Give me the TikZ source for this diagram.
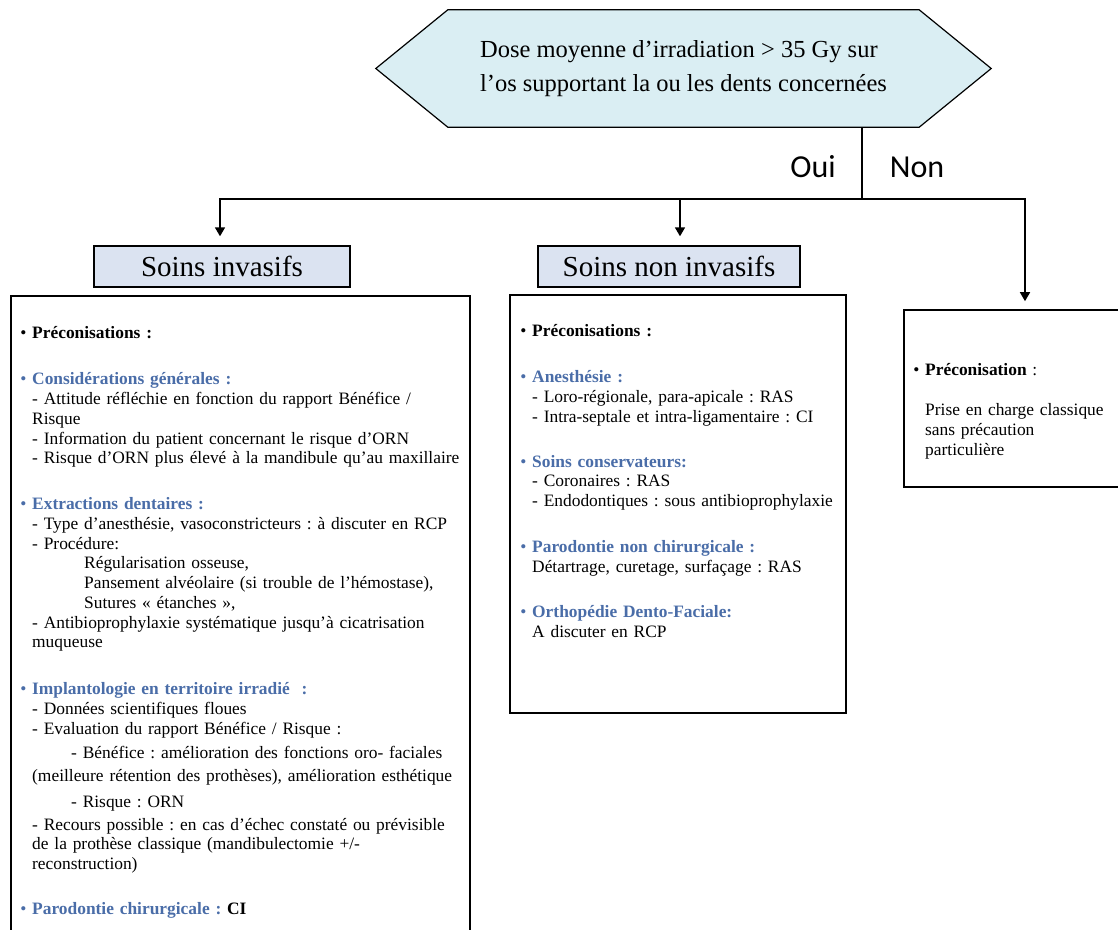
\documentclass[tikz,border=0pt]{standalone}
\usepackage{fontspec}
\setmainfont{Liberation Serif}
\newfontfamily\calibri{Carlito}
\usetikzlibrary{positioning,arrows.meta,backgrounds}
\definecolor{dosefond}{HTML}{DAEEF3}
\definecolor{titrefond}{HTML}{DBE3F1}
\definecolor{titrebleu}{HTML}{4A6DA8}
\newcommand{\puce}[1]{\leavevmode\llap{\textbullet\ }\textbf{#1}}
\newcommand{\bpuce}[1]{\leavevmode{\color{titrebleu}\puce{#1}}}
\frenchspacing

\begin{document}
\begin{tikzpicture}[x=1pt,y=-1pt,
titre/.style={draw,line width=1.4pt,fill=titrefond,minimum width=256pt,minimum height=41pt,font=\fontsize{29}{34}\selectfont},
boite/.style={draw,line width=1.6pt,rectangle},
texte/.style={anchor=base west,inner sep=0pt,align=left,font=\fontsize{17.4}{19.75}\selectfont\frenchspacing},
fleche/.style={line width=1.6pt,-{Triangle[length=9pt,width=10pt]}}]
\useasboundingbox (0,0) rectangle (1118,929);

\node (dose) [font=\fontsize{24.5}{34}\selectfont,align=left,minimum width=471pt,minimum height=117pt,inner sep=0pt] at (683.5,68.5)
  {Dose moyenne d’irradiation > 35 Gy sur\\ l’os supportant la ou les dents concernées};
\begin{scope}[on background layer]
\draw[line width=1.2pt,fill=dosefond] (dose.north west) -- (dose.north east) -- ([xshift=72pt]dose.east)
  -- (dose.south east) -- (dose.south west) -- ([xshift=-72pt]dose.west) -- cycle;
\end{scope}

\node (invasif) [titre] at (222,266.5) {Soins invasifs};
\node (noninv) [titre,minimum width=262pt] at (669,266.5) {Soins non invasifs};

\node (gauche) [boite,minimum width=459pt,minimum height=639pt] at (240.5,615.5) {};
\node (milieu) [boite,minimum width=336pt,minimum height=418pt] at (678,504) {};
\node (droite) [boite,minimum width=242pt,minimum height=177pt] at (1025,398.5) {};

\coordinate (fourche) at (862,199);
\draw[line width=1.6pt] (dose.south -| fourche) -- (fourche);
\draw[fleche,shorten >=9pt] (fourche) -| ([xshift=-2pt]invasif.north);
\draw[fleche,shorten >=9pt] (fourche) -| ([xshift=11pt]noninv.north);
\draw[fleche,shorten >=8pt] (fourche) -| (droite.north);

\node (oui) [font=\calibri\fontsize{32}{36}\selectfont] at (813,167) {Oui};
\node (non) [font=\calibri\fontsize{32}{36}\selectfont] at (917,167) {Non};

\node (txtg) [texte,text width=440pt] at (32,338) {
\puce{Préconisations :}\\[27pt]
\bpuce{Considérations générales :}\\
- Attitude réfléchie en fonction du rapport Bénéfice /\\
Risque\\
- Information du patient concernant le risque d’ORN\\
- Risque d’ORN plus élevé à la mandibule qu’au maxillaire\\[26pt]
\bpuce{Extractions dentaires :}\\
- Type d’anesthésie, vasoconstricteurs : à discuter en RCP\\
- Procédure:\\
\hspace*{52pt}Régularisation osseuse,\\
\hspace*{52pt}Pansement alvéolaire (si trouble de l’hémostase),\\
\hspace*{52pt}Sutures « étanches »,\\
- Antibioprophylaxie systématique jusqu’à cicatrisation\\
muqueuse\\[27pt]
\bpuce{Implantologie en territoire irradié~ :}\\
- Données scientifiques floues\\
- Evaluation du rapport Bénéfice / Risque :\\[5pt]
\hspace*{39pt}- Bénéfice : amélioration des fonctions oro- faciales\\[3pt]
(meilleure rétention des prothèses), amélioration esthétique\\[6pt]
\hspace*{39pt}- Risque : ORN\\[3pt]
- Recours possible : en cas d’échec constaté ou prévisible\\
de la prothèse classique (mandibulectomie +/-\\
reconstruction)\\[25pt]
\bpuce{Parodontie chirurgicale :} \textbf{CI}};

\node (txtm) [texte,text width=310pt] at (532,336) {
\puce{Préconisations :}\\[27pt]
\bpuce{Anesthésie :}\\
- Loro-régionale, para-apicale : RAS\\
- Intra-septale et intra-ligamentaire : CI\\[25pt]
\bpuce{Soins conservateurs:}\\
- Coronaires : RAS\\
- Endodontiques : sous antibioprophylaxie\\[26pt]
\bpuce{Parodontie non chirurgicale :}\\
Détartrage, curetage, surfaçage : RAS\\[26pt]
\bpuce{Orthopédie Dento-Faciale:}\\
A discuter en RCP};

\node (txtd) [texte,text width=190pt] at (925,375) {
\puce{Préconisation}~:\\[21pt]
Prise en charge classique\\
sans précaution\\
particulière};
\end{tikzpicture}
\end{document}
